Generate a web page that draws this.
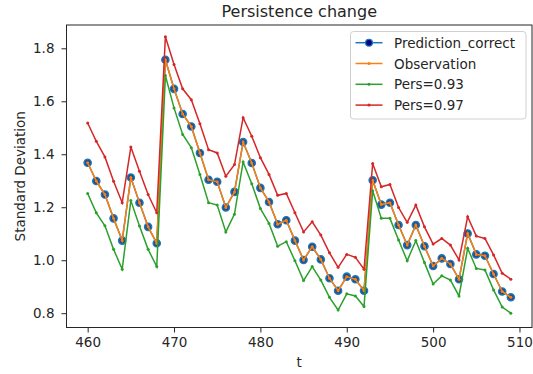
<!DOCTYPE html>
<html>
<head>
<meta charset="utf-8">
<script src="https://cdn.jsdelivr.net/npm/d3@7"></script>
<style>
  body { margin: 0; background: #fff; }
  svg { display: block; font-family: "DejaVu Sans", sans-serif; }
</style>
</head>
<body>
<script>
const width = 533;
const height = 374;

// time steps 460..509
const tValues = [
  460, 461, 462, 463, 464, 465, 466, 467, 468, 469,
  470, 471, 472, 473, 474, 475, 476, 477, 478, 479,
  480, 481, 482, 483, 484, 485, 486, 487, 488, 489,
  490, 491, 492, 493, 494, 495, 496, 497, 498, 499,
  500, 501, 502, 503, 504, 505, 506, 507, 508, 509
];

const predictionCorrect = [
  1.368, 1.299, 1.248, 1.158, 1.074, 1.312, 1.217, 1.126, 1.064, 1.757,
  1.647, 1.552, 1.505, 1.405, 1.304, 1.296, 1.199, 1.258, 1.446, 1.367,
  1.273, 1.220, 1.136, 1.151, 1.074, 1.001, 1.051, 1.003, 0.932, 0.885,
  0.938, 0.928, 0.885, 1.302, 1.210, 1.217, 1.133, 1.057, 1.133, 1.053,
  0.978, 1.007, 0.986, 0.928, 1.101, 1.022, 1.017, 0.948, 0.882, 0.860
];

const observation = [
  1.368, 1.299, 1.248, 1.158, 1.074, 1.312, 1.217, 1.126, 1.064, 1.757,
  1.647, 1.552, 1.505, 1.405, 1.304, 1.296, 1.199, 1.258, 1.446, 1.367,
  1.273, 1.220, 1.136, 1.151, 1.074, 1.001, 1.051, 1.003, 0.932, 0.885,
  0.938, 0.928, 0.885, 1.302, 1.210, 1.217, 1.133, 1.057, 1.133, 1.053,
  0.978, 1.007, 0.986, 0.928, 1.101, 1.022, 1.017, 0.948, 0.882, 0.860
];

const pers093 = [
  1.252, 1.179, 1.130, 1.041, 0.966, 1.225, 1.129, 1.041, 0.976, 1.697,
  1.575, 1.475, 1.425, 1.324, 1.217, 1.208, 1.107, 1.174, 1.371, 1.289,
  1.195, 1.139, 1.053, 1.070, 0.998, 0.923, 0.976, 0.925, 0.860, 0.812,
  0.873, 0.865, 0.825, 1.262, 1.158, 1.158, 1.076, 0.998, 1.074, 0.991,
  0.910, 0.941, 0.925, 0.865, 1.045, 0.969, 0.963, 0.888, 0.823, 0.800
];

const pers097 = [
  1.518, 1.449, 1.390, 1.298, 1.217, 1.427, 1.336, 1.248, 1.179, 1.844,
  1.739, 1.647, 1.606, 1.515, 1.417, 1.405, 1.317, 1.361, 1.538, 1.468,
  1.387, 1.324, 1.245, 1.252, 1.179, 1.107, 1.145, 1.095, 1.028, 0.973,
  1.022, 1.011, 0.966, 1.365, 1.277, 1.286, 1.199, 1.143, 1.208, 1.126,
  1.061, 1.082, 1.057, 1.001, 1.164, 1.091, 1.082, 1.020, 0.951, 0.928
];

const xTicks = [460, 470, 480, 490, 500, 510];
const yTicks = [0.8, 1.0, 1.2, 1.4, 1.6, 1.8];

const series = [
  { name: "Prediction_correct", values: predictionCorrect, color: "#1f77b4", big: true },
  { name: "Observation", values: observation, color: "#ff7f0e" },
  { name: "Pers=0.93", values: pers093, color: "#2ca02c" },
  { name: "Pers=0.97", values: pers097, color: "#d62728" }
];

let margin = { top: 25, right: 1, bottom: 46.5, left: 66.5 };

let svg = d3
  .select("body")
  .append("svg")
  .attr("width", width)
  .attr("height", height);

let xScale = d3
  .scaleLinear()
  .domain([457.55, 511.45])
  .range([margin.left, width - margin.right]);

let yScale = d3
  .scaleLinear()
  .domain([0.746, 1.888])
  .range([height - margin.bottom, margin.top]);

let xAxis = d3
  .axisBottom(xScale)
  .tickValues(xTicks)
  .tickSize(5)
  .tickPadding(5)
  .tickFormat(d3.format("d"));

let yAxis = d3
  .axisLeft(yScale)
  .tickValues(yTicks)
  .tickSize(5)
  .tickPadding(7)
  .tickFormat(d3.format(".1f"));

let plot = svg.append("g").attr("id", "plot");

let line = d3
  .line()
  .x((d) => xScale(d.t))
  .y((d) => yScale(d.v));

series.forEach((s) => {
  let pts = tValues.map((t, i) => ({ t: t, v: s.values[i] }));
  plot
    .append("path")
    .datum(pts)
    .attr("fill", "none")
    .attr("stroke", s.color)
    .attr("stroke-width", 1.5)
    .attr("d", line);
  plot
    .selectAll(null)
    .data(pts)
    .join("circle")
    .attr("cx", (d) => xScale(d.t))
    .attr("cy", (d) => yScale(d.v))
    .attr("r", s.big ? 3.6 : 1.5)
    .attr("fill", s.big ? "#1c4f96" : s.color)
    .attr("stroke", s.big ? "#1f77b4" : "none")
    .attr("stroke-width", 1.4);
});

// axes
svg
  .append("g")
  .attr("transform", `translate(0, ${height - margin.bottom})`)
  .call(xAxis)
  .call((g) => g.select(".domain").remove());

svg
  .append("g")
  .attr("transform", `translate(${margin.left}, 0)`)
  .call(yAxis)
  .call((g) => g.select(".domain").remove());

svg.selectAll(".tick text").attr("font-size", 13.5).attr("fill", "#262626").attr("font-family", "DejaVu Sans");
svg.selectAll(".tick line").attr("stroke", "#262626");

// frame
svg
  .append("rect")
  .attr("x", margin.left)
  .attr("y", margin.top)
  .attr("width", width - margin.right - margin.left)
  .attr("height", height - margin.bottom - margin.top)
  .attr("fill", "none")
  .attr("stroke", "#262626")
  .attr("stroke-width", 1);

// title and labels
svg
  .append("text")
  .attr("x", (margin.left + width - margin.right) / 2)
  .attr("y", 17)
  .attr("text-anchor", "middle")
  .attr("font-size", 16)
  .attr("fill", "#262626")
  .text("Persistence change");

svg
  .append("text")
  .attr("x", (margin.left + width - margin.right) / 2)
  .attr("y", 367)
  .attr("text-anchor", "middle")
  .attr("font-size", 13.5)
  .attr("fill", "#262626")
  .text("t");

svg
  .append("text")
  .attr("transform", `translate(24.5, ${(margin.top + height - margin.bottom) / 2}) rotate(-90)`)
  .attr("text-anchor", "middle")
  .attr("font-size", 13.5)
  .attr("fill", "#262626")
  .text("Standard Deviation");

// legend
let legend = svg.append("g").attr("transform", "translate(350.5, 31.5)");

legend
  .append("rect")
  .attr("width", 175.5)
  .attr("height", 87.5)
  .attr("rx", 3)
  .attr("fill", "#fff")
  .attr("fill-opacity", 0.8)
  .attr("stroke", "#d0d0d0");

series.forEach((s, i) => {
  let y = 11.2 + i * 20.8;
  legend
    .append("line")
    .attr("x1", 5)
    .attr("x2", 32)
    .attr("y1", y)
    .attr("y2", y)
    .attr("stroke", s.color)
    .attr("stroke-width", 1.5);
  legend
    .append("circle")
    .attr("cx", 18.5)
    .attr("cy", y)
    .attr("r", s.big ? 3.4 : 1.5)
    .attr("fill", s.big ? "#00008b" : s.color)
    .attr("stroke", s.big ? "#1f77b4" : "none")
    .attr("stroke-width", 1.2);
  legend
    .append("text")
    .attr("x", 43.5)
    .attr("y", y + 5)
    .attr("font-size", 13.5)
    .attr("fill", "#262626")
    .text(s.name);
});
</script>
</body>
</html>
